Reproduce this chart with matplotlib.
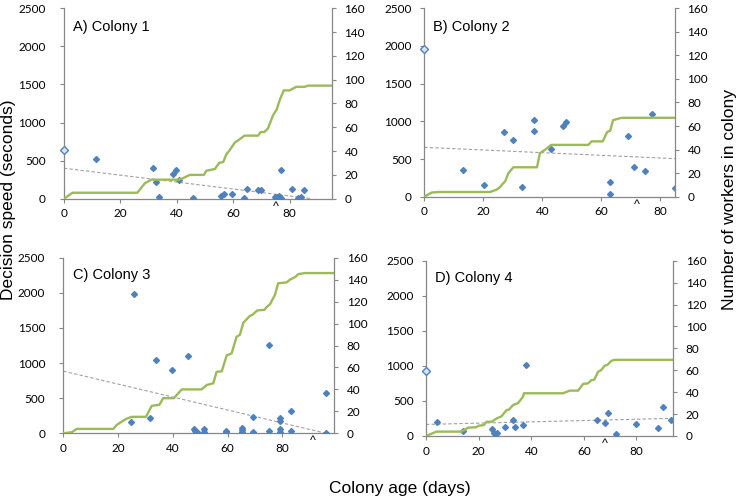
import numpy as np
import matplotlib
matplotlib.use("Agg")
from matplotlib import pyplot as plt
from matplotlib import transforms

# --- decision speed (seconds) per colony ---
days_a = [11.3, 31.6, 32.6, 33.6, 38.6, 39.6, 40.7, 45.8, 55.7, 56.6, 59.7, 63.7,
          64.8, 68.8, 69.7, 74.8, 75.5, 76.2, 76.9, 76.9, 80.9, 82.8, 83.9, 85]
speed_a = [518, 404, 216, 18, 325, 378, 242, 9, 31, 58, 58, 9,
           132, 110, 110, 18, 26, 36, 9, 378, 128, 9, 18, 110]

days_b = [13.2, 20.2, 27.1, 30.2, 33.1, 37.1, 37.1, 43.1, 47.1, 48.1, 62.9, 62.9,
          68.9, 71, 74.9, 77.1, 84.9]
speed_b = [350, 151, 858, 748, 125, 1022, 868, 633, 934, 995, 195, 40,
           810, 394, 337, 1097, 115]

days_c = [24.7, 25.8, 31.7, 33.7, 39.7, 45.5, 47.6, 48.2, 48.8, 51.5, 51.5, 59.3,
          59.5, 65.3, 65.3, 65.3, 69.2, 69.2, 75.3, 75.3, 79.2, 79.2, 79.2, 79.2,
          83.2, 83.2, 96, 96]
speed_c = [161, 1979, 213, 1048, 901, 1096, 57, 38, 19, 57, 14, 38,
           24, 71, 47, 14, 228, 24, 1253, 38, 223, 171, 57, 19,
           313, 38, 569, 9]

days_d = [4.1, 14.2, 25, 25.8, 26.8, 30, 32.9, 33.9, 36.9, 37.9, 65, 68, 69,
          72.1, 80, 88, 90.1, 93]
speed_d = [200, 67, 104, 38, 38, 128, 233, 124, 157, 1008, 228, 185, 333,
           33, 171, 119, 409, 223]

# first (queen-only) decision, drawn as open diamond; None = not shown
first_speed = [640, 1960, None, 922]

# --- number of workers in colony ---
wday_a = [0, 3, 26, 28.7, 31, 40.7, 42, 44.6, 49.6, 50.5, 53.5, 55, 56.5, 57.5,
          58.8, 60.5, 61.7, 64, 68.8, 69.7, 71, 72.3, 74.1, 75.4, 76.5, 77.9,
          80, 82.3, 85.3, 86.5, 95]
wcnt_a = [0, 5, 5, 13, 16, 16, 17, 20, 20, 23.5, 25, 30, 31, 37,
          41, 47, 49, 53, 53, 56, 56, 59, 70, 75, 83, 91,
          91, 94, 94, 95, 95]

wday_b = [0, 2.5, 4.8, 22.3, 24.5, 25.6, 26.6, 27.4, 28.5, 30.2, 38.2, 39.2, 41,
          43, 55.6, 56.7, 60.5, 62, 63, 64, 66.9, 85]
wcnt_b = [0, 3.5, 4, 4, 6, 8, 11, 13, 20, 25, 25, 37, 40,
          44, 44, 47, 47, 55, 56, 65, 67, 67]

wday_c = [0, 3.1, 4.9, 18.3, 19.5, 21.3, 23.2, 25, 30.2, 32.3, 35.1, 36.5, 40.4,
          43.3, 50.5, 52.4, 54.8, 56, 57.9, 59.7, 61.5, 63.3, 64.5, 65.8, 67,
          68.2, 69.1, 70.9, 73.5, 74.3, 75.5, 77.3, 78.5, 81.6, 82.8, 84.8,
          85.8, 88.3, 99]
wcnt_c = [0, 1, 4, 4, 7.6, 10.6, 13.4, 15, 15, 25, 26, 32, 32,
          40, 40, 44, 45.6, 56, 56.5, 71, 72.8, 88, 89.7, 100.8, 104,
          107, 108, 112, 112.5, 115, 117.5, 126, 136.7, 137.5, 140, 142.5,
          145, 146, 146]

wday_d = [0, 2, 4, 13.5, 16, 19, 20, 22, 23, 25, 26.8, 28.7, 30.6, 31.5, 33.1,
          35, 36.9, 37.2, 52.1, 54.6, 57.8, 59.7, 61.5, 62.9, 64, 65.4, 66.5,
          67.9, 69, 70.5, 71.7, 94]
wcnt_d = [0, 2, 4, 4, 7.6, 8, 9.4, 10, 13, 13, 16, 18, 23.7, 24, 28.3,
          30, 36, 39, 39, 41.4, 41.4, 47.5, 48, 51, 51.5, 58.7, 60,
          64, 65, 68.7, 69.5, 69.5]

# linear trend of decision speed: (day0, speed0, day1, speed1)
trend_a = [0, 400, 88, 0]
trend_b = [0, 655, 85, 505]
trend_c = [0, 885, 96, 0]
trend_d = [0, 165, 94, 252]

caret_day = [75, 72, 91, 68]
x_max = [95, 85, 99, 94]
titles = ["A) Colony 1", "B) Colony 2", "C) Colony 3", "D) Colony 4"]

panels = [
    (days_a, speed_a, wday_a, wcnt_a, trend_a),
    (days_b, speed_b, wday_b, wcnt_b, trend_b),
    (days_c, speed_c, wday_c, wcnt_c, trend_c),
    (days_d, speed_d, wday_d, wcnt_d, trend_d),
]

# axes boxes in figure fraction (left, bottom, width, height)
boxes = [
    [0.0861, 0.6026, 0.3607, 0.3808],
    [0.5711, 0.6066, 0.3374, 0.3768],
    [0.0852, 0.1334, 0.3647, 0.3512],
    [0.5734, 0.1280, 0.3328, 0.3506],
]
left_pad = [10, 6, 10, 6]

BLUE = "#4F81BD"
GREEN = "#9BBB59"
AXIS = "#878787"
TICKFONT = "Lato"

fig = plt.figure(figsize=(7.43, 5.0), dpi=100)

for i, (dx, sp, wd, wc, tr) in enumerate(panels):
    ax = fig.add_axes(boxes[i])
    ax2 = ax.twinx()

    ax.plot([tr[0], tr[2]], [tr[1], tr[3]], ls=(0, (3, 2)), color="#A0A0A0",
            lw=0.8, zorder=1)
    ax.plot(dx, sp, ls="none", marker="D", ms=3.0, color=BLUE, mec=BLUE, zorder=3)
    if first_speed[i] is not None:
        ax.plot([0], [first_speed[i]], ls="none", marker="D", ms=4.0,
                mfc="#DCE6F2", mec=BLUE, mew=1.0, zorder=4, clip_on=False)

    ax2.plot(wd, wc, color=GREEN, lw=1.7, zorder=2)

    ax.set_xlim(0, x_max[i])
    ax.set_ylim(0, 2500)
    ax2.set_ylim(0, 160)
    ax.set_xticks([0, 20, 40, 60, 80])
    ax.set_yticks(np.arange(0, 2501, 500))
    ax2.set_yticks(np.arange(0, 161, 20))

    for a in (ax, ax2):
        a.spines["top"].set_visible(False)
    ax.spines["right"].set_visible(False)
    ax2.spines["left"].set_visible(False)
    ax2.spines["bottom"].set_visible(False)
    for s in ("left", "bottom"):
        ax.spines[s].set_color(AXIS)
        ax.spines[s].set_linewidth(0.9)
    ax2.spines["right"].set_color(AXIS)
    ax2.spines["right"].set_linewidth(0.9)

    ax.tick_params(axis="x", direction="out", length=3, width=0.8, color=AXIS,
                   pad=4, labelsize=8.5)
    ax.tick_params(axis="y", direction="out", length=3, width=0.8, color=AXIS,
                   pad=left_pad[i], labelsize=8.5)
    ax2.tick_params(axis="y", direction="out", length=3, width=0.8, color=AXIS,
                    pad=6, labelsize=8.5)
    for lab in ax.get_xticklabels() + ax.get_yticklabels() + ax2.get_yticklabels():
        lab.set_family(TICKFONT)

    ax.text(0.035, 0.88, titles[i], transform=ax.transAxes, fontsize=10.5,
            family="Liberation Sans", va="baseline", ha="left")

    trans = transforms.blended_transform_factory(ax.transData, ax.transAxes)
    ax.text(caret_day[i], -0.012, "^", transform=trans, ha="center", va="top",
            fontsize=9, family="Liberation Sans")

fig.text(0.011, 0.60, "Decision speed (seconds)", rotation=90, ha="center",
         va="center", fontsize=12.5, family="Liberation Sans")
fig.text(0.9825, 0.60, "Number of workers in colony", rotation=90, ha="center",
         va="center", fontsize=12.5, family="Liberation Sans")
fig.text(0.538, 0.024, "Colony age (days)", ha="center", va="center",
         fontsize=12.5, family="Liberation Sans")

fig.savefig("out.png", dpi=100)
